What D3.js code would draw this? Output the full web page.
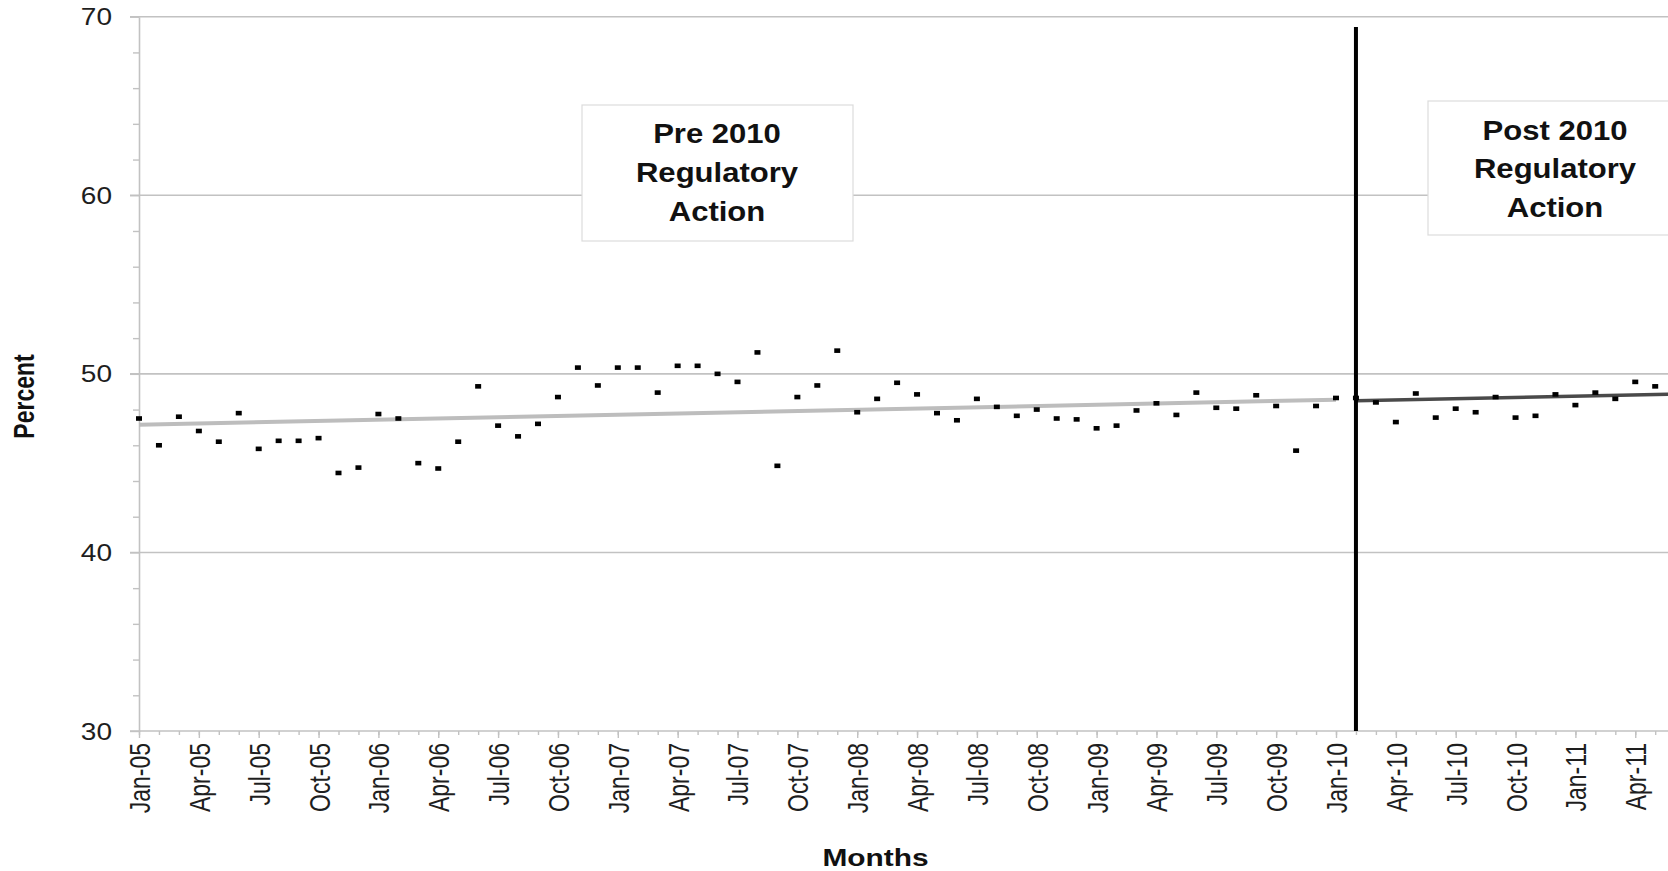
<!DOCTYPE html>
<html>
<head>
<meta charset="utf-8">
<script src="https://cdn.jsdelivr.net/npm/d3@7"></script>
<style>
  html, body { margin: 0; padding: 0; background: #fff; }
  svg { display: block; font-family: "Liberation Sans", Arial, sans-serif; }
</style>
</head>
<body>
<svg id="chart" width="1668" height="871"></svg>
<script>
// ---------- data ----------
const startMonth = new Date(2005, 0, 1);
const months = d3.timeMonth.range(startMonth, new Date(2011, 5, 1)); // Jan-05 .. May-11
const monthFmt = d3.timeFormat("%b-%y");

const preValues = [
  47.5, 46.0, 47.6, 46.8, 46.2, 47.8, 45.8, 46.25, 46.25, 46.4, 44.45, 44.75,
  47.75, 47.5, 45.0, 44.7, 46.2, 49.3, 47.1, 46.5, 47.2, 48.7, 50.35, 49.35,
  50.35, 50.35, 48.95, 50.45, 50.45, 50.0, 49.55, 51.2, 44.85, 48.7, 49.35, 51.3,
  47.85, 48.6, 49.5, 48.85, 47.8, 47.4, 48.6, 48.15, 47.65, 48.0, 47.5, 47.45,
  46.95, 47.1, 47.95, 48.35, 47.7, 48.95, 48.1, 48.05, 48.8, 48.2, 45.7, 48.2,
  48.65
];
const postValues = [
  48.65, 48.4, 47.3, 48.9, 47.55, 48.05, 47.85, 48.7, 47.55, 47.65, 48.85,
  48.25, 48.95, 48.6, 49.55, 49.3
];
const allValues = preValues.concat(postValues);

const preTrendIdx = [0, 60];
const preTrendVals = [47.15, 48.55];
const postTrendIdx = [61, 77];
const postTrendVals = [48.5, 48.86];

const breakIdx = 61; // Feb-10
const tickLabels = ["Jan-05","Apr-05","Jul-05","Oct-05","Jan-06","Apr-06","Jul-06","Oct-06",
  "Jan-07","Apr-07","Jul-07","Oct-07","Jan-08","Apr-08","Jul-08","Oct-08",
  "Jan-09","Apr-09","Jul-09","Oct-09","Jan-10","Apr-10","Jul-10","Oct-10","Jan-11","Apr-11"];
const yMajor = [30, 40, 50, 60, 70];
const yMinor = [32,34,36,38,42,44,46,48,52,54,56,58,62,64,66,68];

const preLabel = ["Pre 2010", "Regulatory", "Action"];
const postLabel = ["Post 2010", "Regulatory", "Action"];

// ---------- layout ----------
const W = 1668, H = 871;
const svg = d3.select("#chart");
svg.append("rect").attr("width", W).attr("height", H).attr("fill", "#fff");

const x = d3.scaleLinear().domain([0, 77]).range([139, 139 + 77 * 19.95]);
const y = d3.scaleLinear().domain([30, 70]).range([731, 16.7]);
const gridColor = "#c2c2c2";
const SX = 1.3;
const SXY = 1.22;

// gridlines
svg.append("g").selectAll("line").data(yMajor.filter(v => v > 30)).join("line")
  .attr("x1", 130).attr("x2", W)
  .attr("y1", d => y(d)).attr("y2", d => y(d))
  .attr("stroke", gridColor).attr("stroke-width", 1.6);

// x axis baseline
svg.append("line").attr("x1", 130).attr("x2", W)
  .attr("y1", y(30)).attr("y2", y(30))
  .attr("stroke", gridColor).attr("stroke-width", 1.6);

// y axis
const yMinorAxis = svg.append("g").attr("transform", `translate(${x(0)},0)`)
  .call(d3.axisLeft(y).tickValues(yMinor).tickSize(6).tickSizeOuter(0).tickFormat(""));
yMinorAxis.select(".domain").attr("stroke", gridColor).attr("stroke-width", 1.6);
yMinorAxis.selectAll(".tick line").attr("stroke", gridColor).attr("stroke-width", 1.4);

const yMajorAxis = svg.append("g").attr("transform", `translate(${x(0)},0)`)
  .call(d3.axisLeft(y).tickValues(yMajor).tickSize(9).tickSizeOuter(0).tickFormat(d3.format("d")));
yMajorAxis.select(".domain").remove();
yMajorAxis.selectAll(".tick line").attr("stroke", gridColor).attr("stroke-width", 1.4);
yMajorAxis.selectAll(".tick text")
  .attr("x", -27 / SXY).attr("dy", "0.35em")
  .attr("transform", `scale(${SXY},1)`)
  .attr("font-size", 23).attr("fill", "#1e1e1e")
  .attr("font-family", "'Liberation Sans', Arial, sans-serif");

// x axis ticks
const xMinorAxis = svg.append("g").attr("transform", `translate(0,${y(30)})`)
  .call(d3.axisBottom(x).tickValues(d3.range(0, 79)).tickSize(4).tickSizeOuter(0).tickFormat(""));
xMinorAxis.select(".domain").remove();
xMinorAxis.selectAll(".tick line").attr("stroke", gridColor).attr("stroke-width", 1.4);

const xMajorAxis = svg.append("g").attr("transform", `translate(0,${y(30)})`)
  .call(d3.axisBottom(x).tickValues(d3.range(0, 76, 3)).tickSize(7).tickSizeOuter(0)
    .tickFormat(i => tickLabels[i / 3]));
xMajorAxis.select(".domain").remove();
xMajorAxis.selectAll(".tick line").attr("stroke", gridColor).attr("stroke-width", 1.4);
xMajorAxis.selectAll(".tick text")
  .attr("x", 0).attr("y", 0).attr("dy", "0.35em")
  .attr("text-anchor", "end")
  .attr("transform", `translate(0,12) scale(${SX},1) rotate(-90)`)
  .attr("font-size", 23).attr("fill", "#1e1e1e")
  .attr("font-family", "'Liberation Sans', Arial, sans-serif");

// axis titles
svg.append("text")
  .attr("transform", `translate(24,396.5) scale(${SX},1) rotate(-90)`)
  .attr("text-anchor", "middle").attr("dy", "0.35em")
  .attr("font-size", 23).attr("font-weight", "bold").attr("fill", "#111")
  .text("Percent");
svg.append("text")
  .attr("transform", `translate(875.5,865.5) scale(${SX},1)`)
  .attr("text-anchor", "middle")
  .attr("font-size", 23).attr("font-weight", "bold").attr("fill", "#111")
  .text("Months");

// trend lines
const line = d3.line().x(d => x(d[0])).y(d => y(d[1]));
svg.append("path")
  .datum(preTrendIdx.map((d, i) => [d, preTrendVals[i]]))
  .attr("d", line).attr("fill", "none")
  .attr("stroke", "#bdbdbd").attr("stroke-width", 4);
svg.append("path")
  .datum(postTrendIdx.map((d, i) => [d, postTrendVals[i]]))
  .attr("d", line).attr("fill", "none")
  .attr("stroke", "#4a4a4a").attr("stroke-width", 3.5);

// markers
svg.append("g").selectAll("rect").data(allValues).join("rect")
  .attr("x", (d, i) => x(i) - 3).attr("y", d => y(d) - 2.3)
  .attr("width", 6).attr("height", 4.6)
  .attr("fill", "#000");

// vertical break line
svg.append("line")
  .attr("x1", x(breakIdx)).attr("x2", x(breakIdx))
  .attr("y1", 27).attr("y2", y(30))
  .attr("stroke", "#000").attr("stroke-width", 4);

// annotation boxes
function box(x0, y0, w, h, cx, baselines, lines) {
  svg.append("rect").attr("x", x0).attr("y", y0).attr("width", w).attr("height", h)
    .attr("fill", "#fff").attr("stroke", "#dcdcdc").attr("stroke-width", 1.2);
  svg.append("g").selectAll("text").data(lines).join("text")
    .attr("transform", (d, i) => `translate(${cx},${baselines[i]}) scale(1.15,1)`)
    .attr("text-anchor", "middle")
    .attr("font-size", 27).attr("font-weight", "bold").attr("fill", "#111")
    .text(d => d);
}
box(582, 105, 271, 136, 717, [142.5, 181.5, 220.5], preLabel);
box(1428, 101, 260, 134, 1555, [139.5, 178, 216.5], postLabel);
</script>
</body>
</html>
